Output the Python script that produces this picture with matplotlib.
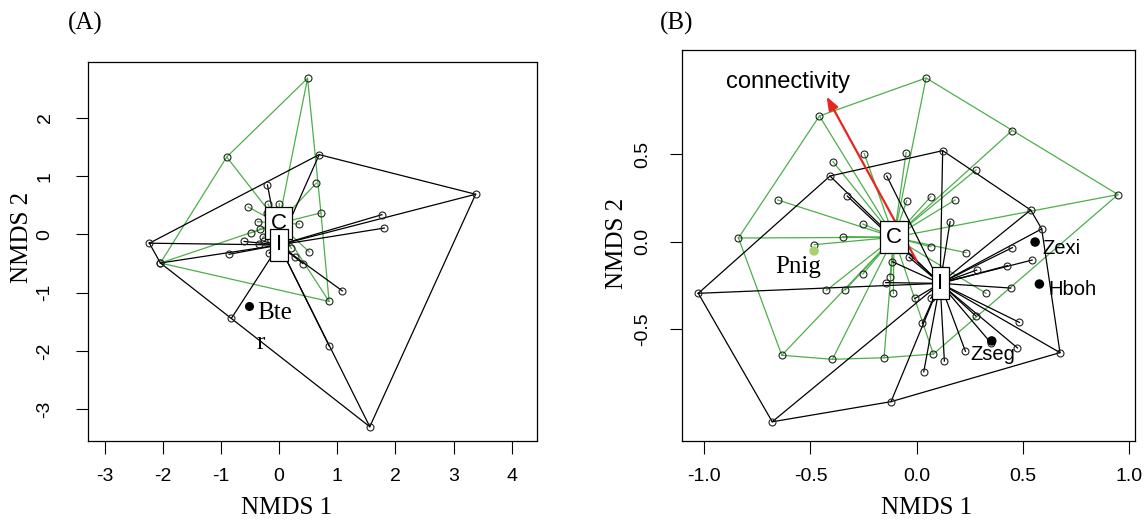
import numpy as np
import matplotlib
matplotlib.use("Agg")
import matplotlib.pyplot as plt

# --- panel A: NMDS scores ---
a_c_x = [0.49, -0.90, -2.04, 0.86, 0.64, 0.72, 0.005, -0.53, 0.35, 0.52, -0.48, -0.37, -0.19, 0.21, -0.21, -0.33, -0.28]
a_c_y = [2.68, 1.33, -0.49, -1.15, 0.88, 0.37, 0.53, 0.47, 0.18, -0.30, 0.03, 0.22, 0.52, -0.24, 0.37, 0.10, -0.05]
a_i_x = [-2.23, 0.69, 3.38, 1.56, -0.82, 0.86, -2.04, 1.77, 1.81, 1.09, -0.20, -0.86, -0.60, 0.41, 0.27, -0.17, -0.35, -0.26, 0.15]
a_i_y = [-0.15, 1.37, 0.69, -3.30, -1.44, -1.91, -0.49, 0.34, 0.11, -0.97, 0.85, -0.34, -0.12, -0.50, -0.38, -0.32, -0.17, -0.12, -0.10]
a_cent = {"C": (-0.01, 0.19), "I": (0.0, -0.18)}
a_sp = ["Bte"]
a_sp_x = [-0.51]
a_sp_y = [-1.22]
a_sp_lab = [(-0.37, -1.34)]

# --- panel B ---
b_c_x = [-0.458, 0.044, 0.448, 0.947, 0.078, -0.154, -0.397, -0.635, -0.839, -0.654, -0.394, -0.247, -0.050,
         -0.047, 0.066, 0.18, 0.279, -0.254, -0.348, -0.482, 0.066, 0.232, -0.254, -0.425, -0.337, -0.11, 0.326, -0.126]
b_c_y = [0.718, 0.935, 0.634, 0.269, -0.642, -0.663, -0.672, -0.649, 0.021, 0.238, 0.457, 0.503, 0.509,
         0.234, 0.257, 0.238, 0.410, 0.101, 0.029, -0.017, -0.029, -0.063, -0.185, -0.278, -0.276, -0.295, -0.295, -0.2]
b_i_x = [-1.028, -0.680, -0.121, 0.674, 0.588, 0.536, 0.122, -0.408, -0.141, -0.327, 0.157, 0.450, 0.543, 0.427,
         0.282, 0.442, 0.483, 0.474, 0.348, 0.229, 0.130, 0.033, 0.026, 0.279, -0.146, -0.115, -0.036, -0.008, 0.066]
b_i_y = [-0.295, -1.029, -0.914, -0.634, 0.073, 0.181, 0.520, 0.375, 0.375, 0.261, 0.114, -0.034, -0.105, -0.137,
         -0.162, -0.265, -0.461, -0.607, -0.577, -0.626, -0.682, -0.743, -0.466, -0.425, -0.234, -0.114, -0.089, -0.324, -0.324]
b_cent = {"C": (-0.107, 0.025), "I": (0.110, -0.238)}
b_sp = ["Zexi", "Hboh", "Zseg", "Pnig"]
b_sp_x = [0.557, 0.577, 0.353, -0.483]
b_sp_y = [-0.002, -0.242, -0.567, -0.053]
b_sp_lab = [(0.593, -0.038), (0.619, -0.276), (0.251, -0.647), (-0.557, -0.143)]
b_arrow = ((0.0, -0.11), (-0.424, 0.829))

GREEN = "#4daf4a"
SERIF = "Liberation Serif"
SANS = "Liberation Sans"


def hull(x, y):
    pts = sorted(set(zip(x, y)))
    def cross(o, a, b):
        return (a[0] - o[0]) * (b[1] - o[1]) - (a[1] - o[1]) * (b[0] - o[0])
    lower, upper = [], []
    for p in pts:
        while len(lower) >= 2 and cross(lower[-2], lower[-1], p) <= 0:
            lower.pop()
        lower.append(p)
    for p in reversed(pts):
        while len(upper) >= 2 and cross(upper[-2], upper[-1], p) <= 0:
            upper.pop()
        upper.append(p)
    h = lower[:-1] + upper[:-1]
    h.append(h[0])
    return np.array(h)


def ordi(ax, cx, cy, ix, iy, cent):
    for gx, gy, key, col in [(cx, cy, "C", GREEN), (ix, iy, "I", "black")]:
        x0, y0 = cent[key]
        for px, py in zip(gx, gy):
            ax.plot([x0, px], [y0, py], color=col, lw=0.9, zorder=2)
        h = hull(gx, gy)
        ax.plot(h[:, 0], h[:, 1], color=col, lw=0.9, zorder=2)
    ax.plot(cx + ix, cy + iy, "o", mfc="none", mec="#222222", ms=5, mew=0.8, zorder=3)
    for k, (key, (x0, y0)) in enumerate(cent.items()):
        ax.text(x0, y0, key, ha="center", va="center", fontsize=16, family=SANS, zorder=6 + k,
                bbox=dict(boxstyle="square,pad=0.25", fc="white", ec="black", lw=0.9))


def style(ax, xt, xl, yt, yl, xlim, ylim, ypad):
    ax.set_xlim(*xlim)
    ax.set_ylim(*ylim)
    ax.set_xticks(xt)
    ax.set_xticklabels(xl, family=SANS, fontsize=14)
    ax.set_yticks(yt)
    ax.set_yticklabels(yl, family=SANS, fontsize=14, rotation=90, va="center")
    ax.tick_params(axis="x", length=9, width=0.8, pad=11)
    ax.tick_params(axis="y", length=9, width=0.8, pad=ypad)
    for s in ax.spines.values():
        s.set_linewidth(0.9)


fig = plt.figure(figsize=(11.45, 5.2), dpi=100)
axA = fig.add_axes([88.3 / 1145, 1 - 440.7 / 520, 448.4 / 1145, 378.7 / 520])
axB = fig.add_axes([681.7 / 1145, 1 - 440.7 / 520, 453.3 / 1145, 390.7 / 520])

# panel A
ordi(axA, a_c_x, a_c_y, a_i_x, a_i_y, a_cent)
axA.plot(a_sp_x, a_sp_y, "o", color="black", ms=5.5, zorder=4)
for name, (tx, ty) in zip(a_sp, a_sp_lab):
    axA.text(tx, ty, name, ha="left", va="center", fontsize=18, family=SERIF)
axA.text(-0.31, -1.87, "r", ha="center", va="center", fontsize=18, family=SERIF)
style(axA, range(-3, 5), [str(v) for v in range(-3, 5)], range(-3, 3), [str(v) for v in range(-3, 3)],
      (-3.28, 4.43), (-3.54, 2.96), 16)

# panel B
ordi(axB, b_c_x, b_c_y, b_i_x, b_i_y, b_cent)
sp_cols = ["black", "black", "black", "#a6d36e"]
axB.scatter(b_sp_x, b_sp_y, c=sp_cols, s=34, zorder=4)
for name, (tx, ty) in zip(b_sp, b_sp_lab):
    if name == "Pnig":
        axB.text(tx, ty, name, ha="center", va="center", fontsize=18, family=SERIF)
    else:
        axB.text(tx, ty, name, ha="left", va="center", fontsize=14.5, family=SANS)
(sx, sy), (ex, ey) = b_arrow
axB.annotate("", xy=(ex, ey), xytext=(sx, sy), zorder=5,
             arrowprops=dict(arrowstyle="-|>,head_length=0.8,head_width=0.3", color="#e8251f", lw=1.6,
                             shrinkA=0, shrinkB=0))
axB.text(-0.604, 0.914, "connectivity", ha="center", va="center", fontsize=17, family=SANS)
style(axB, [-1, -0.5, 0, 0.5, 1], ["-1.0", "-0.5", "0.0", "0.5", "1.0"], [-0.5, 0, 0.5], ["-0.5", "0.0", "0.5"],
      (-1.106, 1.027), (-1.137, 1.095), 13)

# axis titles and panel letters
fig.text(286.7 / 1145, 1 - 508 / 520, "NMDS 1", ha="center", va="center", fontsize=18, family=SERIF)
fig.text(926.7 / 1145, 1 - 508 / 520, "NMDS 1", ha="center", va="center", fontsize=18, family=SERIF)
fig.text(22 / 1145, 1 - 237 / 520, "NMDS 2", ha="center", va="center", fontsize=18, family=SERIF, rotation=90)
fig.text(617 / 1145, 1 - 243.5 / 520, "NMDS 2", ha="center", va="center", fontsize=18, family=SERIF, rotation=90)
fig.text(85 / 1145, 1 - 23 / 520, "(A)", ha="center", va="center", fontsize=18, family=SERIF)
fig.text(677 / 1145, 1 - 23 / 520, "(B)", ha="center", va="center", fontsize=18, family=SERIF)

fig.savefig("out.png", dpi=100)
